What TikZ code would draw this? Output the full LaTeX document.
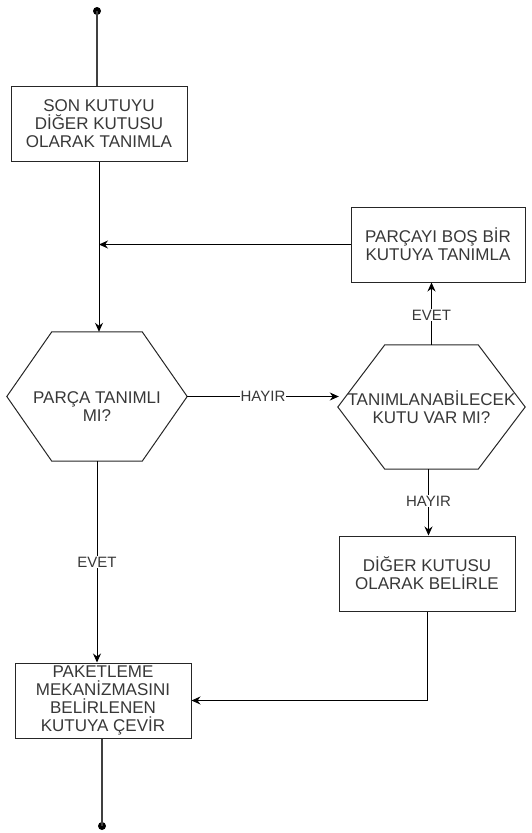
\documentclass[tikz,border=0pt]{standalone}
\usepackage{fontspec}
\setmainfont{Liberation Sans}
\usetikzlibrary{arrows.meta,calc}
\begin{document}
\begin{tikzpicture}[x=1pt,y=-1pt,
  every node/.style={font=\fontsize{17}{18}\selectfont, text=black!78, align=center},
  procbox/.style={draw=black!85, line width=1pt, minimum width=176pt, minimum height=75pt, inner sep=0pt},
  hexarea/.style={minimum width=#1, minimum height=126pt, inner sep=0pt},
  flow/.style={draw=black, line width=1pt, -{Stealth[length=9pt,width=8pt]}},
  term/.style={draw=black!75, line width=1.6pt},
  lbl/.style={fill=white, inner sep=1pt, font=\fontsize{15}{16}\selectfont}]
\useasboundingbox (0,0) rectangle (531,833);

% terminal points
\fill[black] (97,11) circle (4pt) coordinate (start);
\fill[black] (102,826) circle (4pt) coordinate (finish);

% process boxes
\node[procbox] (b1) at (99,123.5) {SON KUTUYU\\DİĞER KUTUSU\\OLARAK TANIMLA};
\node[procbox, minimum width=174pt] (b2) at (438,244.5) {PARÇAYI BOŞ BİR\\KUTUYA TANIMLA};
\node[procbox] (b3) at (427,573.5) {DİĞER KUTUSU\\OLARAK BELİRLE};
\node[procbox] (b4) at (103,700.5) {PAKETLEME\\MEKANİZMASINI\\BELİRLENEN\\KUTUYA ÇEVİR};

% decision hexagons
\node[hexarea=180pt, minimum height=129pt] (h1) at (97,396.5) {};
\node (h1t) at ($(h1)+(0,10)$) {PARÇA TANIMLI\\MI?};
\node[hexarea=187pt, minimum height=124pt] (h2) at (431.5,407) {TANIMLANABİLECEK\\KUTU VAR MI?};
\draw[black!85, line width=1pt] (h1.west) -- ($(h1.north west)+(45,0)$) -- ($(h1.north east)+(-45,0)$)
  -- (h1.east) -- ($(h1.south east)+(-45,0)$) -- ($(h1.south west)+(45,0)$) -- cycle;
\draw[black!85, line width=1pt] (h2.west) -- ($(h2.north west)+(47,0)$) -- ($(h2.north east)+(-47,0)$)
  -- (h2.east) -- ($(h2.south east)+(-47,0)$) -- ($(h2.south west)+(47,0)$) -- cycle;

% connectors
\draw[term] (start) -- (start |- b1.north);
\draw[flow] (b1.south) -- (b1.south |- h1.north);
\draw[flow] (b2.west) -- (b2.west -| b1.south);
\draw[flow] (h1.east) -- node[lbl, pos=0.5] {HAYIR} ($(h1.east -| h2.west)+(1,0)$);
\draw[flow] (h2.north) -- node[lbl, pos=0.48] {EVET} (h2.north |- b2.south);
\coordinate (h2out) at ($(h2.south)+(-3,0)$);
\draw[flow] (h2out) -- node[lbl, pos=0.48] {HAYIR} (h2out |- b3.north);
\draw[flow] (h1.south) -- node[lbl, pos=0.5] {EVET} (h1.south |- b4.north);
\draw[flow] (b3.south) |- (b4.east);
\draw[term] (finish |- b4.south) -- (finish);
\end{tikzpicture}
\end{document}
